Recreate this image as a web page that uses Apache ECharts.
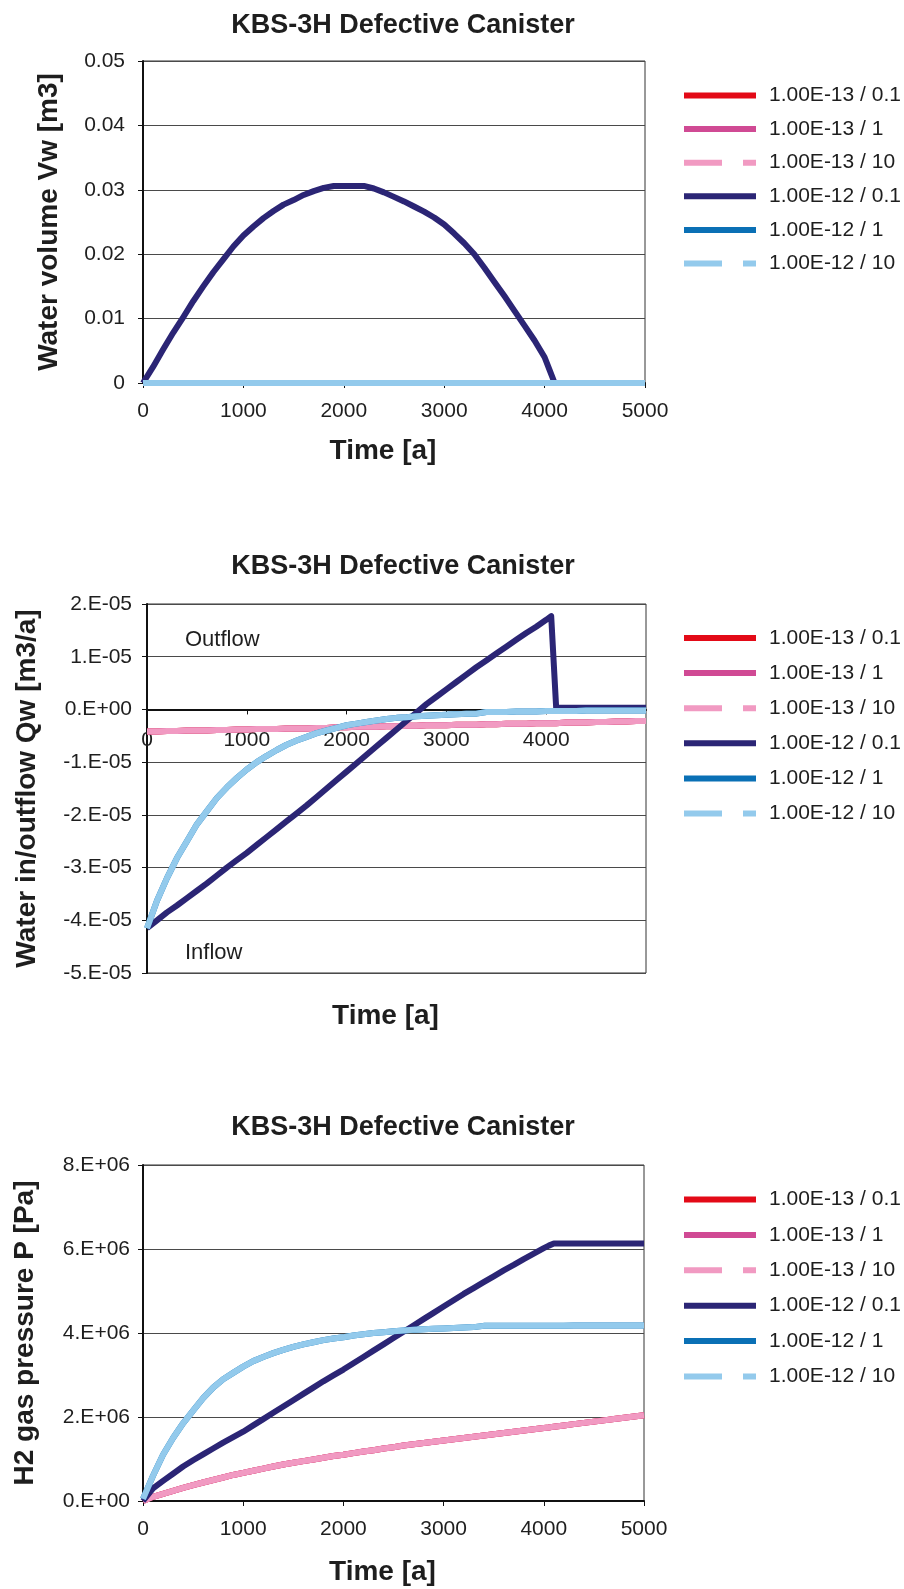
<!DOCTYPE html>
<html>
<head>
<meta charset="utf-8">
<script src="https://cdn.jsdelivr.net/npm/echarts@6/dist/echarts.min.js"></script>
<style>
html,body{margin:0;padding:0;background:#fff;}
#c{width:904px;height:1589px;}
</style>
</head>
<body>
<div id="c"></div>
<script>
// ---------- data ----------
const seriesNames = ['1.00E-13 / 0.1','1.00E-13 / 1','1.00E-13 / 10','1.00E-12 / 0.1','1.00E-12 / 1','1.00E-12 / 10'];
const seriesColors = ['#E30A17','#D04A94','#F19AC2','#2B2575','#0A70B5','#93CAEC'];
const dashedSeries = [false,false,true,false,false,true];

const years = [0,100,200,300,400,500,600,700,800,900,1000,1100,1200,1300,1400,1500,1600,1700,1800,1900,
  2000,2100,2200,2300,2400,2500,2600,2700,2800,2900,3000,3100,3200,3300,3400,3500,3600,3700,3800,3900,
  4000,4050,4100,4200,4300,4400,4500,4600,4700,4800,4900,5000];

const xTicks = [0,1000,2000,3000,4000,5000];

// Chart 1 : water volume Vw [m3]
const vwNavy = [0,0.0025,0.0052,0.0078,0.0102,0.0127,0.015,0.0172,0.0192,0.0212,
  0.0229,0.0243,0.0256,0.0267,0.0277,0.0284,0.0292,0.0298,0.0303,0.0306,
  0.0306,0.0306,0.0306,0.0302,0.0296,0.0289,0.0282,0.0274,0.0266,0.0257,
  0.0246,0.0232,0.0217,0.02,0.0179,0.0157,0.0135,0.0112,0.0089,0.0066,
  0.004,0.002,0,0,0,0,0,0,0,0,0,0];
const vwZero = [0,0,0,0,0,0,0,0,0,0,0,0,0,0,0,0,0,0,0,0,0,0,0,0,0,0,
  0,0,0,0,0,0,0,0,0,0,0,0,0,0,0,0,0,0,0,0,0,0,0,0,0,0];
const vwTickLabels = ['0','0.01','0.02','0.03','0.04','0.05'];

// Chart 2 : water in/outflow Qw [m3/a]
const qwLowK = [-4.2e-6,-4.2e-6,-4.1e-6,-4.1e-6,-4.0e-6,-4.0e-6,-4.0e-6,-3.9e-6,-3.9e-6,-3.8e-6,
  -3.8e-6,-3.7e-6,-3.7e-6,-3.7e-6,-3.6e-6,-3.6e-6,-3.6e-6,-3.5e-6,-3.5e-6,-3.4e-6,
  -3.4e-6,-3.3e-6,-3.3e-6,-3.3e-6,-3.2e-6,-3.2e-6,-3.1e-6,-3.1e-6,-3.0e-6,-3.0e-6,
  -3.0e-6,-2.9e-6,-2.9e-6,-2.9e-6,-2.8e-6,-2.8e-6,-2.7e-6,-2.7e-6,-2.7e-6,-2.6e-6,
  -2.6e-6,-2.6e-6,-2.6e-6,-2.5e-6,-2.5e-6,-2.5e-6,-2.4e-6,-2.4e-6,-2.3e-6,-2.3e-6,-2.2e-6,-2.2e-6];
const qwNavy = [-4.15e-5,-4.0e-5,-3.85e-5,-3.72e-5,-3.58e-5,-3.44e-5,-3.3e-5,-3.15e-5,-3.0e-5,-2.86e-5,
  -2.72e-5,-2.57e-5,-2.42e-5,-2.27e-5,-2.12e-5,-1.97e-5,-1.82e-5,-1.66e-5,-1.5e-5,-1.34e-5,
  -1.18e-5,-1.02e-5,-0.86e-5,-0.7e-5,-0.54e-5,-0.38e-5,-0.22e-5,-0.06e-5,0.1e-5,0.24e-5,
  0.38e-5,0.52e-5,0.66e-5,0.8e-5,0.93e-5,1.06e-5,1.19e-5,1.32e-5,1.45e-5,1.57e-5,
  1.7e-5,1.77e-5,0.03e-5,0.03e-5,0.03e-5,0.03e-5,0.03e-5,0.03e-5,0.03e-5,0.03e-5,0.03e-5,0.03e-5];
const qwHighK = [-4.15e-5,-3.63e-5,-3.2e-5,-2.82e-5,-2.5e-5,-2.18e-5,-1.93e-5,-1.68e-5,-1.48e-5,-1.3e-5,
  -1.14e-5,-1.0e-5,-0.88e-5,-0.77e-5,-0.67e-5,-0.59e-5,-0.52e-5,-0.45e-5,-0.4e-5,-0.35e-5,
  -0.3e-5,-0.27e-5,-0.24e-5,-0.21e-5,-0.18e-5,-0.16e-5,-0.15e-5,-0.13e-5,-0.12e-5,-0.11e-5,
  -0.1e-5,-0.09e-5,-0.08e-5,-0.08e-5,-0.05e-5,-0.05e-5,-0.05e-5,-0.04e-5,-0.04e-5,-0.04e-5,
  -0.03e-5,-0.03e-5,-0.03e-5,-0.03e-5,-0.03e-5,-0.02e-5,-0.02e-5,-0.02e-5,-0.02e-5,-0.02e-5,-0.02e-5,-0.02e-5];
const qwTickLabels = ['-5.E-05','-4.E-05','-3.E-05','-2.E-05','-1.E-05','0.E+00','1.E-05','2.E-05'];

// Chart 3 : H2 gas pressure P [Pa]
const pLowK = [0,0.1e6,0.17e6,0.24e6,0.31e6,0.38e6,0.44e6,0.5e6,0.56e6,0.62e6,
  0.67e6,0.72e6,0.77e6,0.82e6,0.87e6,0.91e6,0.95e6,0.99e6,1.03e6,1.07e6,
  1.1e6,1.14e6,1.18e6,1.21e6,1.25e6,1.28e6,1.32e6,1.35e6,1.38e6,1.41e6,
  1.44e6,1.47e6,1.5e6,1.53e6,1.56e6,1.59e6,1.62e6,1.65e6,1.68e6,1.71e6,
  1.74e6,1.75e6,1.77e6,1.8e6,1.83e6,1.86e6,1.89e6,1.92e6,1.95e6,1.98e6,2.01e6,2.04e6];
const pNavy = [0,0.3e6,0.48e6,0.65e6,0.82e6,0.97e6,1.11e6,1.25e6,1.39e6,1.52e6,
  1.65e6,1.8e6,1.95e6,2.1e6,2.25e6,2.4e6,2.55e6,2.7e6,2.85e6,2.99e6,
  3.13e6,3.28e6,3.43e6,3.58e6,3.73e6,3.88e6,4.03e6,4.18e6,4.33e6,4.48e6,
  4.63e6,4.78e6,4.93e6,5.07e6,5.21e6,5.35e6,5.49e6,5.62e6,5.76e6,5.89e6,
  6.02e6,6.08e6,6.13e6,6.13e6,6.13e6,6.13e6,6.13e6,6.13e6,6.13e6,6.13e6,6.13e6,6.13e6];
const pHighK = [0.05e6,0.6e6,1.1e6,1.5e6,1.85e6,2.15e6,2.45e6,2.7e6,2.9e6,3.05e6,
  3.2e6,3.33e6,3.43e6,3.52e6,3.6e6,3.67e6,3.73e6,3.78e6,3.83e6,3.87e6,
  3.9e6,3.94e6,3.97e6,4.0e6,4.02e6,4.04e6,4.06e6,4.08e6,4.09e6,4.1e6,
  4.11e6,4.12e6,4.13e6,4.14e6,4.17e6,4.17e6,4.17e6,4.17e6,4.17e6,4.17e6,
  4.17e6,4.17e6,4.17e6,4.17e6,4.18e6,4.18e6,4.18e6,4.18e6,4.18e6,4.18e6,4.18e6,4.18e6];
const pTickLabels = ['0.E+00','2.E+06','4.E+06','6.E+06','8.E+06'];

const chartTitle = 'KBS-3H Defective Canister';
const xName = 'Time [a]';
const yNames = ['Water volume Vw [m3]','Water in/outflow Qw [m3/a]','H2 gas pressure P [Pa]'];
const plotNotes = ['Outflow','Inflow'];

// ---------- chart ----------
const FONT = "'Liberation Sans', Arial, sans-serif";
const TXT = '#1e1e1e';

const panelData = [
  [vwZero, vwZero, vwZero, vwNavy, vwZero, vwZero],
  [qwLowK, qwLowK, qwLowK, qwNavy, qwHighK, qwHighK],
  [pLowK, pLowK, pLowK, pNavy, pHighK, pHighK]
];

const series = [];
panelData.forEach((arr, p) => {
  arr.forEach((vals, i) => {
    series.push({
      type: 'line', name: seriesNames[i],
      xAxisIndex: p, yAxisIndex: p,
      data: years.map((t, k) => [t, vals[k]]),
      symbol: 'none', showSymbol: false,
      lineStyle: { color: seriesColors[i], width: 6, cap: 'butt', join: 'round' },
      itemStyle: { color: seriesColors[i] },
      z: 2 + i, animation: false, clip: true
    });
  });
});

const legendData = seriesNames.map((n, i) => dashedSeries[i]
  ? { name: n, lineStyle: { type: [38, 21], width: 6 } }
  : { name: n, lineStyle: { width: 6 } });

function legend(top, gap) {
  return {
    orient: 'vertical', left: 681, top: top, padding: 0,
    itemWidth: 72, itemHeight: 22, itemGap: gap,
    data: legendData, selectedMode: false,
    itemStyle: { color: 'rgba(0,0,0,0)', borderWidth: 0, opacity: 0 },
    textStyle: { fontFamily: FONT, fontSize: 21, color: TXT, lineHeight: 20, padding: [0, 0, 0, 8] }
  };
}
function title(top) {
  return { text: chartTitle, left: 403, top: top, textAlign: 'center', padding: 0,
    textStyle: { fontFamily: FONT, fontSize: 27, fontWeight: 'bold', color: TXT } };
}
const grids = [
  { left: 143, top: 61, width: 502, height: 322 },
  { left: 147, top: 604, width: 499, height: 369 },
  { left: 143, top: 1165, width: 501, height: 336 }
].map(g => Object.assign(g, { show: true, borderColor: '#333', borderWidth: 1, containLabel: false }));

function xAxis(idx, nameGap, labelMargin, hideMax, offset) {
  return {
    type: 'value', gridIndex: idx, min: 0, max: 5000, interval: 1000,
    position: 'bottom', offset: offset,
    name: xName, nameLocation: 'middle', nameGap: nameGap,
    nameTextStyle: { fontFamily: FONT, fontSize: 28, fontWeight: 'bold', color: TXT, padding: [0, 22, 0, 0] },
    axisLine: { show: true, onZero: false, lineStyle: { color: '#111', width: 2 } },
    axisTick: { show: true, length: 5, inside: false, lineStyle: { color: '#111', width: 1 } },
    axisLabel: { fontFamily: FONT, fontSize: 21, color: TXT, margin: labelMargin,
      showMaxLabel: !hideMax,
      formatter: v => (hideMax && v === 5000) ? '' : String(xTicks[Math.round(v / 1000)]) },
    splitLine: { show: false }
  };
}
function yAxis(idx, min, max, interval, labels, name, nameGap, labelMargin) {
  return {
    type: 'value', gridIndex: idx, min: min, max: max, interval: interval,
    name: name, nameLocation: 'middle', nameGap: nameGap,
    nameTextStyle: { fontFamily: FONT, fontSize: 28, fontWeight: 'bold', color: TXT },
    axisLine: { show: true, onZero: false, lineStyle: { color: '#111', width: 2 } },
    axisTick: { show: true, length: 5, inside: false, lineStyle: { color: '#111', width: 1 } },
    axisLabel: { fontFamily: FONT, fontSize: 21, color: TXT, margin: labelMargin,
      formatter: v => labels[Math.round((v - min) / interval)] },
    splitLine: { show: true, lineStyle: { color: '#4a4a4a', width: 1 } }
  };
}

// the zero line of chart 2 sits 5/7 of the way down the plot (range -5E-05 .. 2E-05)
const qwZeroOffset = -(369 * 5 / 7);

const option = {
  backgroundColor: '#fff',
  animation: false,
  title: [title(12), title(553), title(1114)],
  legend: [legend(85, 12.6), legend(627.5, 14.1), legend(1189, 14.4)],
  grid: grids,
  xAxis: [xAxis(0, 54, 18, false, 0), xAxis(1, 293, 20, true, qwZeroOffset), xAxis(2, 57, 18, false, 0)],
  yAxis: [
    yAxis(0, 0, 0.05, 0.01, vwTickLabels, yNames[0], 80, 18),
    yAxis(1, -5e-5, 2e-5, 1e-5, qwTickLabels, yNames[1], 106, 15),
    yAxis(2, 0, 8e6, 2e6, pTickLabels, yNames[2], 104, 13)
  ],
  graphic: [
    { type: 'text', left: 185, top: 629, style: { text: plotNotes[0], font: '22px ' + FONT, fill: TXT } },
    { type: 'text', left: 185, top: 942, style: { text: plotNotes[1], font: '22px ' + FONT, fill: TXT } }
  ],
  series: series
};

const chart = echarts.init(document.getElementById('c'), null, { renderer: 'canvas' });
chart.setOption(option);
</script>
</body>
</html>
